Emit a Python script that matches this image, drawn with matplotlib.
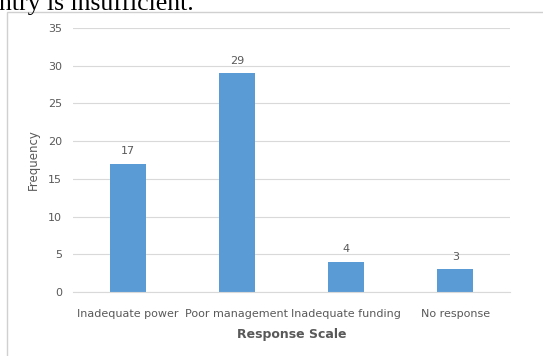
import matplotlib
matplotlib.use('Agg')
import matplotlib.pyplot as plt
from matplotlib.patches import Rectangle

categories = ['Inadequate power', 'Poor management', 'Inadequate funding', 'No response']
frequency = [17, 29, 4, 3]
y_ticks = [0, 5, 10, 15, 20, 25, 30, 35]

BAR_COLOR = '#5B9BD5'
TEXT_GRAY = '#595959'
GRID_GRAY = '#D9D9D9'

fig = plt.figure(figsize=(5.43, 3.56), dpi=100)
ax = fig.add_axes([0.1344, 0.1798, 0.805, 0.7416])

# chart frame (Excel-style border)
fig.patches.append(Rectangle((7 / 543, -0.05), 1.2, 1 - 12 / 356 + 0.05,
                             transform=fig.transFigure, fill=False,
                             edgecolor='#D0D0D0', linewidth=1.0))

# body text above the chart, cut off by the crop
fig.text(-0.002, 1 - 10 / 356, 'ntry is insufficient.', family='Liberation Serif',
         fontsize=18.5, color='black', ha='left', va='baseline')

x = range(len(categories))
bars = ax.bar(x, frequency, width=0.33, color=BAR_COLOR, zorder=2)
for b, v in zip(bars, frequency):
    ax.text(b.get_x() + b.get_width() / 2, v + 1.0, str(v), ha='center', va='bottom',
            fontsize=8, color=TEXT_GRAY)

ax.set_xlim(-0.5, len(categories) - 0.5)
ax.set_ylim(0, 35)
ax.set_yticks(y_ticks)
ax.set_xticks(list(x))
ax.set_xticklabels(categories)
ax.tick_params(axis='both', length=0, labelsize=8, colors=TEXT_GRAY)
ax.tick_params(axis='y', pad=8)
ax.tick_params(axis='x', pad=12)
ax.yaxis.grid(True, color=GRID_GRAY, linewidth=0.8, zorder=0)
for side in ['top', 'right', 'left']:
    ax.spines[side].set_visible(False)
ax.spines['bottom'].set_color(GRID_GRAY)

ax.set_xlabel('Response Scale', fontsize=9, fontweight='bold', color=TEXT_GRAY, labelpad=7)
ax.set_ylabel('Frequency', fontsize=8.5, color=TEXT_GRAY, labelpad=6)

fig.savefig('out.png', dpi=100)
